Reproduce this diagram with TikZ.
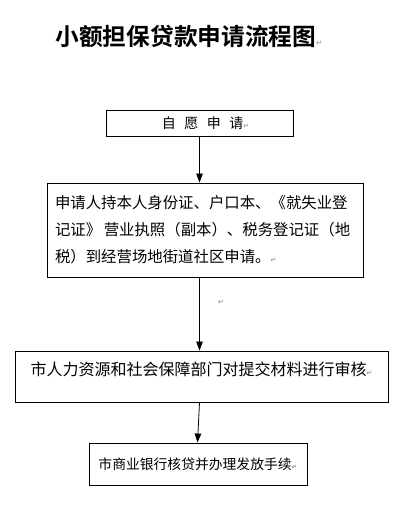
\documentclass[tikz,border=0pt]{standalone}
\usepackage{fontspec}
\newfontfamily\cjk{Noto Sans CJK SC}
\newfontfamily\cjkb{Noto Sans CJK SC Bold}
\newfontfamily\sym{DejaVu Sans}
\usetikzlibrary{arrows.meta}
\newcommand{\pmark}{{\sym\fontsize{7}{7}\selectfont\color{gray}↵}}
\begin{document}
\begin{tikzpicture}[x=1pt,y=-1pt,
  box/.style={draw=black,line width=0.9pt,inner sep=0pt,font=\cjk\fontsize{15.4}{27}\selectfont},
  arr/.style={line width=0.8pt,-{Triangle[length=9pt,width=6.5pt]}}]
\useasboundingbox (0,0) rectangle (402,505);
\fill[white] (0,0) rectangle (402,505);
\node[font=\cjkb\fontsize{23.7}{24}\selectfont,anchor=west] (title) at (52,36) {小额担保贷款申请流程图\pmark};
\node[box,minimum width=187pt,minimum height=26pt,font=\cjk\fontsize{14}{16}\selectfont] (b1) at (199.5,123) {\hspace{12pt}自\hspace{8.5pt}愿\hspace{8.5pt}申\hspace{8.5pt}请\pmark};
\node[box,minimum width=316pt,minimum height=94pt,align=left,text width=300pt] (b2) at (205,230)
  {申请人持本人身份证、户口本、《就失业登\\记证》\,营业执照（副本）、税务登记证（地\\税）到经营场地街道社区申请。\pmark};
\node[box,minimum width=373pt,minimum height=51pt,text height=14pt,text depth=16pt,font=\cjk\fontsize{16}{18}\selectfont] (b3) at (201.5,376.5)
  {市人力资源和社会保障部门对提交材料进行审核\pmark};
\node[box,minimum width=218pt,minimum height=42pt,font=\cjk\fontsize{13.8}{16}\selectfont] (b4) at (198,464)
  {市商业银行核贷并办理发放手续\pmark};
\node (stray) at (221,302) {\pmark};
\draw[arr] (b1.south) -- (b1.south |- b2.north);
\draw[arr] (b2.south -| b1.south) -- (b1.south |- b3.north);
\draw[arr] (b1.south |- b3.south) -- ([xshift=-2pt]b1.south |- b4.north);
\end{tikzpicture}
\end{document}
